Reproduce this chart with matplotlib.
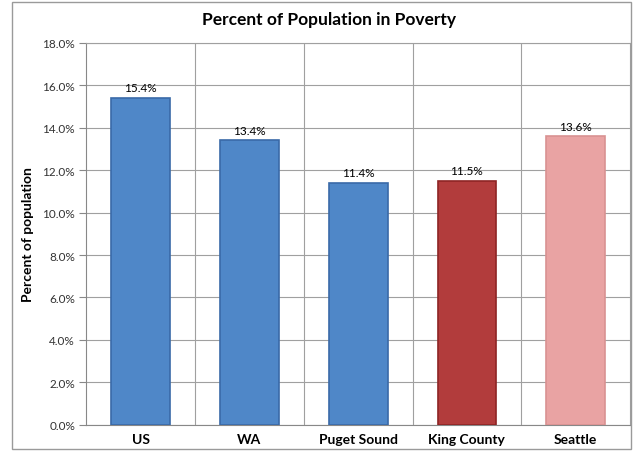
import matplotlib.pyplot as plt
import numpy as np
from matplotlib.patches import Rectangle

plt.rcParams['font.family'] = ['Lato', 'DejaVu Sans']

places = ["US", "WA", "Puget Sound", "King County", "Seattle"]
poverty = [15.4, 13.4, 11.4, 11.5, 13.6]
fills = ["#4f87c8", "#4f87c8", "#4f87c8", "#b23c3c", "#e9a3a3"]
edges = ["#3a6aa8", "#3a6aa8", "#3a6aa8", "#8e2424", "#d99292"]
yticks = np.arange(0, 18.1, 2.0)

fig = plt.figure(figsize=(6.39, 4.52), dpi=100)
# outer chart frame
fig.patches.append(Rectangle((0.019, 0.004), 0.968, 0.99, transform=fig.transFigure,
                             fill=False, edgecolor="#9a9a9a", lw=1.0))
ax = fig.add_axes([0.135, 0.058, 0.851, 0.845])

x = np.arange(len(places))
ax.bar(x, poverty, width=0.54, color=fills, edgecolor=edges, linewidth=1.2, zorder=3)
for xi, v in zip(x, poverty):
    ax.text(xi, v + 0.22, f"{v:.1f}%", ha="center", va="bottom", fontsize=8.5, zorder=4)

ax.set_xlim(-0.5, len(places) - 0.5)
ax.set_ylim(0, 18)
ax.set_yticks(yticks)
ax.set_yticklabels([f"{t:.1f}%" for t in yticks], fontsize=8.5, color="#333333")
ax.set_xticks(x)
ax.set_xticklabels(places, fontsize=10, fontweight="bold")
ax.tick_params(axis="x", length=0, pad=6)
ax.tick_params(axis="y", length=5, color="#888888", width=0.8, pad=3)

# horizontal grid at the y ticks, vertical lines between categories
ax.grid(axis="y", color="#a0a0a0", lw=0.8, zorder=0)
for b in np.arange(0.5, len(places) - 0.5):
    ax.axvline(b, color="#a0a0a0", lw=0.8, zorder=0)
for s in ["top", "right"]:
    ax.spines[s].set_color("#a0a0a0")
    ax.spines[s].set_linewidth(0.8)
for s in ["left", "bottom"]:
    ax.spines[s].set_color("#888888")
    ax.spines[s].set_linewidth(0.8)

ax.set_ylabel("Percent of population", fontsize=10, fontweight="bold", labelpad=6)
fig.text(0.515, 0.955, "Percent of Population in Poverty", ha="center", va="center",
         fontsize=12.5, fontweight="bold")

fig.savefig("out.png", dpi=100)
